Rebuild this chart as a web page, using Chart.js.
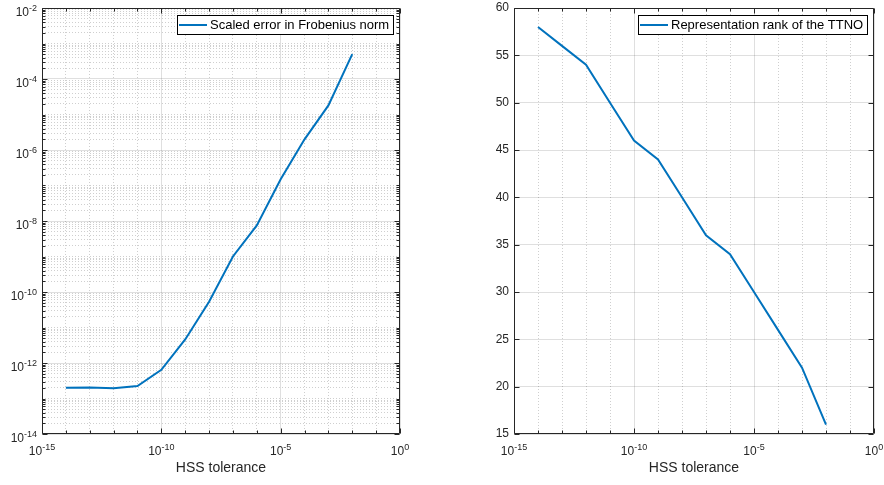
<!DOCTYPE html>
<html>
<head>
<meta charset="utf-8">
<script src="https://cdn.jsdelivr.net/npm/chart.js@4/dist/chart.umd.min.js"></script>
<style>
  html, body { margin: 0; padding: 0; background: #fff; }
  .panel { position: absolute; top: 0; width: 442px; height: 485px; }
</style>
</head>
<body>
<div class="panel" style="left:0"><canvas id="errorChart" width="442" height="485"></canvas></div>
<div class="panel" style="left:442px"><canvas id="rankChart" width="442" height="485"></canvas></div>
<script>
// data
const tolerances = [1e-14, 1e-13, 1e-12, 1e-11, 1e-10, 1e-9, 1e-8, 1e-7, 1e-6, 1e-5, 1e-4, 1e-3, 1e-2];
const scaledError = [2.0e-13, 2.05e-13, 1.95e-13, 2.25e-13, 6.4e-13, 4.6e-12, 5.3e-11, 1.0e-9, 7.5e-9, 1.5e-7, 2.0e-6, 1.8e-5, 5.0e-4];
const ttnoRank = [58, 56, 54, 50, 46, 44, 40, 36, 34, 30, 26, 22, 16];

// tick labels (exponents for the log axes)
const tolTickExps = [-15, -10, -5, 0];
const errorTickExps = [-14, -12, -10, -8, -6, -4, -2];
const rankTicks = [15, 20, 25, 30, 35, 40, 45, 50, 55, 60];

const FONT = '"Liberation Sans", Arial, Helvetica, sans-serif';
const axisColor = '#262626';
const lineColor = '#0072BD';
const majorGrid = 'rgba(38,38,38,0.15)';
const minorGrid = 'rgba(38,38,38,0.22)';

Chart.defaults.font.family = FONT;

// decade ticks, labelled where listed, optional 2..9 minor ticks in between
function logTicks(minExp, maxExp, labelled, subDecades) {
  const out = [];
  for (let e = minExp; e <= maxExp; e++) {
    const isMajor = labelled.includes(e);
    out.push({ value: Number('1e' + e), minor: !isMajor, exp: isMajor ? e : null, text: '' });
    if (subDecades && e < maxExp) {
      for (let k = 2; k <= 9; k++) out.push({ value: Number(k + 'e' + e), minor: true, exp: null, text: '' });
    }
  }
  return out;
}

function scaleOptions(type, min, max, tickList, size) {
  return {
    type, min, max,
    afterBuildTicks: s => { s.ticks = tickList.map(t => Object.assign({}, t)); },
    afterFit: s => {
      if (s.isHorizontal()) { s.height = size; s.paddingLeft = 0; s.paddingRight = 0; }
      else { s.width = size; s.paddingTop = 0; s.paddingBottom = 0; }
    },
    grid: {
      drawTicks: false,
      lineWidth: 1,
      color: c => (c.tick && c.tick.minor ? minorGrid : majorGrid)
    },
    border: {
      display: false,
      dash: c => (c.tick && c.tick.minor ? [1, 2] : [])
    },
    ticks: {
      autoSkip: false,
      maxRotation: 0,
      padding: 5,
      color: axisColor,
      font: { size: 12 },
      callback: (v, i, ticks) => ticks[i].text
    }
  };
}

// "10" with a raised exponent; x is the centre (align 'center') or right edge
function drawPow10(ctx, exp, x, baseline, align) {
  const expText = String(exp);
  ctx.font = '12px ' + FONT;
  const bw = ctx.measureText('10').width;
  ctx.font = '9px ' + FONT;
  const ew = ctx.measureText(expText).width;
  const start = align === 'center' ? x - (bw + ew) / 2 : x - (bw + ew);
  ctx.textAlign = 'left';
  ctx.textBaseline = 'alphabetic';
  ctx.font = '12px ' + FONT;
  ctx.fillText('10', start, baseline);
  ctx.font = '9px ' + FONT;
  ctx.fillText(expText, start + bw, baseline - 5.5);
}

// box, inward ticks on all sides, power-of-ten labels and a boxed legend
const matlabFrame = {
  id: 'matlabFrame',
  afterDraw(chart) {
    const { ctx, chartArea: a, scales } = chart;
    const L = Math.round(a.left) + 0.5, R = Math.round(a.right) - 0.5;
    const T = Math.round(a.top) + 0.5, B = Math.round(a.bottom) - 0.5;
    ctx.save();
    ctx.strokeStyle = axisColor;
    ctx.lineWidth = 1;
    ctx.beginPath();
    scales.x.ticks.forEach(t => {
      const px = Math.round(scales.x.getPixelForValue(t.value)) + 0.5;
      const len = t.minor ? 3 : 5;
      ctx.moveTo(px, B); ctx.lineTo(px, B - len);
      ctx.moveTo(px, T); ctx.lineTo(px, T + len);
    });
    scales.y.ticks.forEach(t => {
      const py = Math.round(scales.y.getPixelForValue(t.value)) + 0.5;
      const len = t.minor ? 3 : 5;
      ctx.moveTo(L, py); ctx.lineTo(L + len, py);
      ctx.moveTo(R, py); ctx.lineTo(R - len, py);
    });
    ctx.rect(L, T, R - L, B - T);
    ctx.stroke();

    ctx.fillStyle = axisColor;
    scales.x.ticks.forEach(t => {
      if (t.exp === null || t.exp === undefined) return;
      drawPow10(ctx, t.exp, scales.x.getPixelForValue(t.value), a.bottom + 21, 'center');
    });
    scales.y.ticks.forEach(t => {
      if (t.exp === null || t.exp === undefined) return;
      drawPow10(ctx, t.exp, a.left - 5, scales.y.getPixelForValue(t.value) + 8, 'right');
    });

    const ds = chart.data.datasets[0];
    ctx.font = '13px ' + FONT;
    const tw = ctx.measureText(ds.label).width;
    const h = 19, w = Math.round(33 + tw + 4);
    const x0 = Math.round(a.right - 7 - w), y0 = Math.round(a.top + 7);
    ctx.fillStyle = '#fff';
    ctx.fillRect(x0, y0, w, h);
    ctx.strokeStyle = '#000';
    ctx.strokeRect(x0 + 0.5, y0 + 0.5, w, h);
    ctx.strokeStyle = ds.borderColor;
    ctx.lineWidth = 2;
    ctx.beginPath();
    ctx.moveTo(x0 + 2, y0 + h / 2 + 0.5);
    ctx.lineTo(x0 + 30, y0 + h / 2 + 0.5);
    ctx.stroke();
    ctx.fillStyle = '#000';
    ctx.textBaseline = 'middle';
    ctx.textAlign = 'left';
    ctx.fillText(ds.label, x0 + 33, y0 + h / 2 + 1);
    ctx.restore();
  }
};

function makeChart(id, label, values, yScale, padRight) {
  return new Chart(document.getElementById(id), {
    type: 'line',
    data: {
      datasets: [{
        label,
        data: tolerances.map((t, i) => ({ x: t, y: values[i] })),
        borderColor: lineColor,
        borderWidth: 2,
        pointRadius: 0,
        tension: 0,
        fill: false
      }]
    },
    options: {
      responsive: false,
      animation: false,
      events: [],
      layout: { padding: { left: 0, top: 8, right: padRight, bottom: 8 } },
      plugins: { legend: { display: false }, tooltip: { enabled: false } },
      scales: {
        x: Object.assign(scaleOptions('logarithmic', 1e-15, 1, logTicks(-15, 0, tolTickExps, false), 43), {
          title: { display: true, text: 'HSS tolerance', color: axisColor, font: { size: 14 }, padding: 0 }
        }),
        y: yScale
      }
    },
    plugins: [matlabFrame]
  });
}

makeChart('errorChart', 'Scaled error in Frobenius norm', scaledError,
  scaleOptions('logarithmic', 1e-14, 1e-2, logTicks(-14, -2, errorTickExps, true), 42), 42);

makeChart('rankChart', 'Representation rank of the TTNO', ttnoRank,
  scaleOptions('linear', 15, 60, rankTicks.map(v => ({ value: v, minor: false, exp: null, text: String(v) })), 72), 10);
</script>
</body>
</html>
